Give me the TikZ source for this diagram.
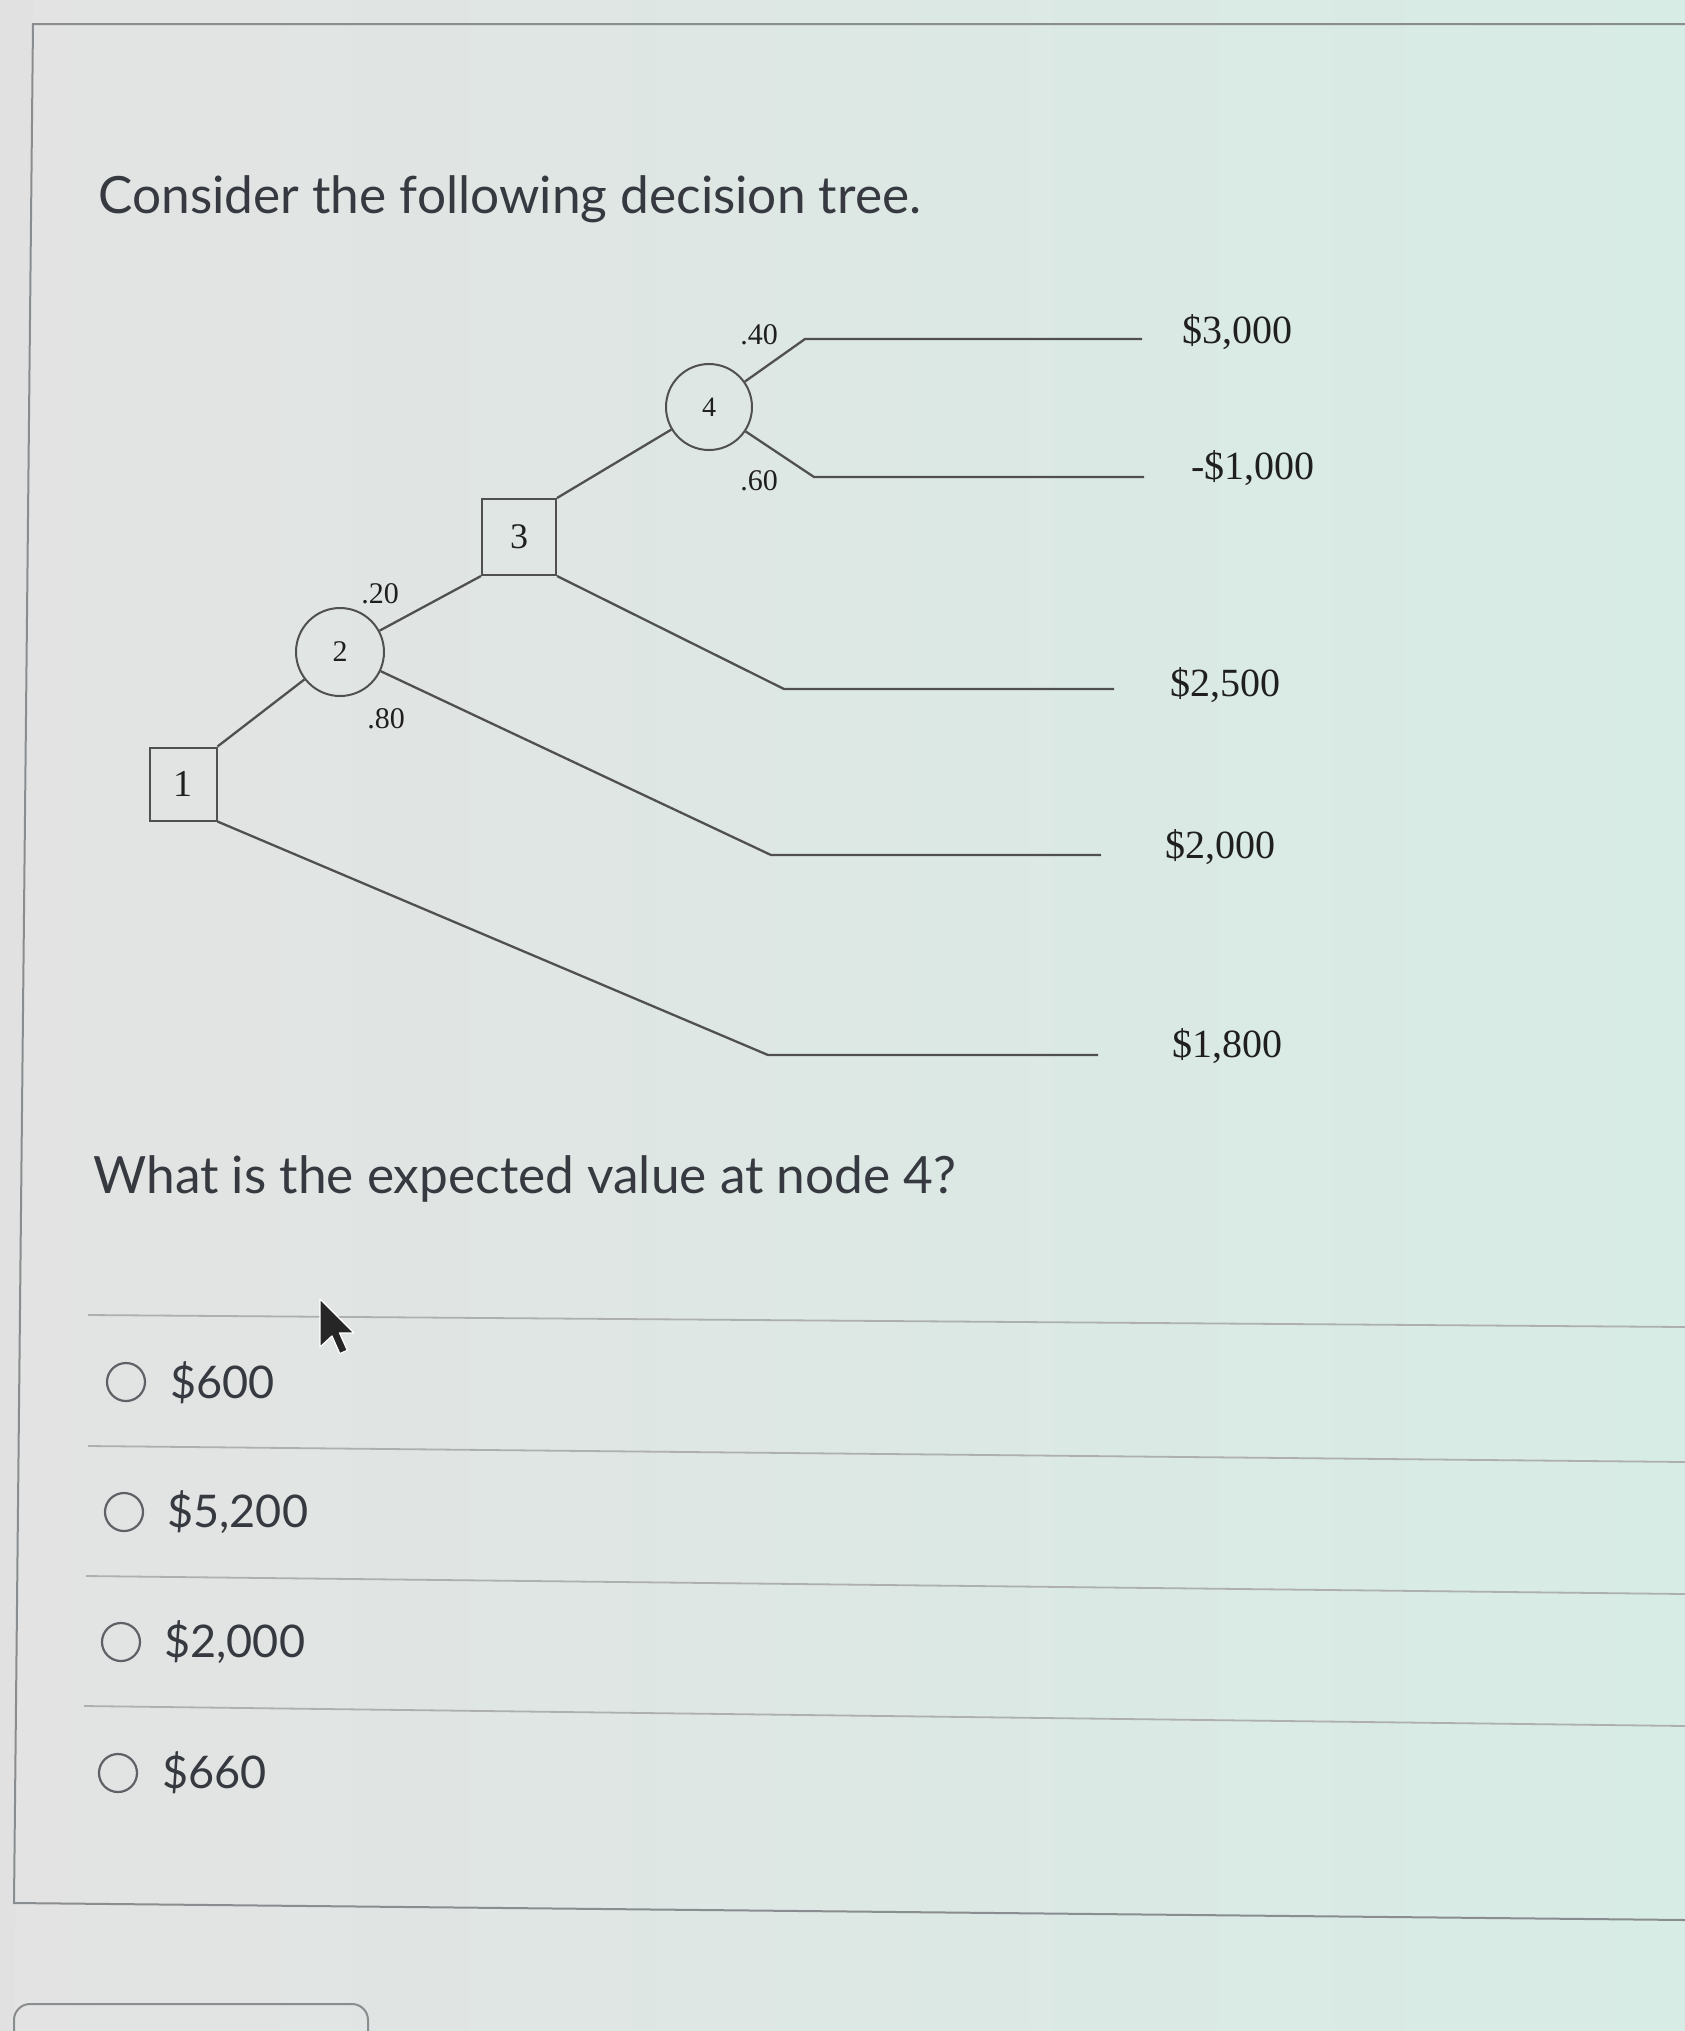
\documentclass[tikz,border=0pt]{standalone}
\usepackage{fontspec}
\setmainfont{Liberation Serif}
\newfontfamily\uifont{Lato}
\definecolor{bgl}{HTML}{E3E3E3}
\definecolor{bgr}{HTML}{D7ECE5}
\definecolor{frame}{HTML}{8A8D8F}
\definecolor{treeline}{HTML}{505050}
\definecolor{ink}{HTML}{1F1F1F}
\definecolor{uiink}{HTML}{363A40}
\tikzset{
  dbox/.style={draw=treeline, line width=1pt, fill=none, inner sep=0pt, text=ink},
  cnode/.style={draw=treeline, line width=1pt, circle, inner sep=0pt, text=ink},
  branch/.style={draw=treeline, line width=1.15pt},
  lbl/.style={text=ink, inner sep=0pt, font=\fontsize{15}{15}\selectfont},
  pay/.style={text=ink, inner sep=0pt, font=\fontsize{20}{20}\selectfont},
  uitext/.style={text=uiink, inner sep=0pt, anchor=base west, font=\uifont\fontsize{25.7}{25.7}\selectfont},
  opttext/.style={text=uiink, inner sep=0pt, anchor=base west, font=\uifont\fontsize{22.5}{22.5}\selectfont},
  radio/.style={draw=uiink!80, line width=1.1pt, circle, minimum size=19pt, inner sep=0pt},
  sep/.style={draw=frame!70, line width=0.9pt},
  panel/.style={draw=frame, line width=1pt}
}
\begin{document}
\begin{tikzpicture}[x=0.5pt,y=-0.5pt]
\useasboundingbox (0,0) rectangle (1685,2031);
\shade[left color=bgl, right color=bgr] (0,0) rectangle (1685,2031);
\fill[black!12, opacity=0.5] (0,0) -- (33,0) -- (14,2031) -- (0,2031) -- cycle;
% panel frame
\coordinate (ptl) at (33,24);
\coordinate (ptr) at (1685,24);
\coordinate (pbl) at (14,1903);
\coordinate (pbr) at (1685,1920);
\draw[panel] (ptr) -- (ptl) -- (pbl) -- (pbr);
\begin{scope}
\clip (0,0) rectangle (1685,2031);
\draw[panel, rounded corners=8pt] (14,2004) rectangle (368,2080);
\end{scope}
% title
\node[uitext] (title) at (98,213) {Consider the following decision tree.};
% tree nodes
\node[dbox, minimum width=33.5pt, minimum height=36.5pt, font=\fontsize{19}{19}\selectfont] (n1) at (183,784) {1};
\node[cnode, minimum size=44pt, font=\fontsize{15}{15}\selectfont] (n2) at (340,652) {2};
\node[dbox, minimum width=37pt, minimum height=38pt, font=\fontsize{18}{18}\selectfont] (n3) at (519,537) {3};
\node[cnode, minimum size=43pt, font=\fontsize{14}{14}\selectfont] (n4) at (709,407) {4};
% corner coordinates
\coordinate (k4a) at (805,339);
\coordinate (e4a) at (1142,339);
\coordinate (k4b) at (814,477);
\coordinate (e4b) at (1144,477);
\coordinate (k3) at (784,689);
\coordinate (e3) at (1114,689);
\coordinate (k2) at (771,855);
\coordinate (e2) at (1101,855);
\coordinate (k1) at (768,1055);
\coordinate (e1) at (1098,1055);
% branches
\draw[branch] (n1.north east) -- (n2);
\draw[branch] (n2) -- (n3.south west);
\draw[branch] (n3.north east) -- (n4);
\draw[branch] (n4) -- (k4a) -- (e4a);
\draw[branch] (n4) -- (k4b) -- (e4b);
\draw[branch] (n3.south east) -- (k3) -- (e3);
\draw[branch] (n2) -- (k2) -- (e2);
\draw[branch] (n1.south east) -- (k1) -- (e1);
% probability labels
\node[lbl] (p40) at (759,335) {.40};
\node[lbl] (p60) at (759,481) {.60};
\node[lbl] (p20) at (380,594) {.20};
\node[lbl] (p80) at (386,719) {.80};
% payoffs
\node[pay] (v1) at (1237,332) {\$3,000};
\node[pay] (v2) at (1253,468) {-\$1,000};
\node[pay] (v3) at (1225,685) {\$2,500};
\node[pay] (v4) at (1220,847) {\$2,000};
\node[pay] (v5) at (1227,1046) {\$1,800};
% question
\node[uitext] (q) at (93,1193) {What is the expected value at node 4?};
% separators
\coordinate (s1a) at (88,1315); \coordinate (s1b) at (1685,1327);
\coordinate (s2a) at (88,1446); \coordinate (s2b) at (1685,1462);
\coordinate (s3a) at (86,1576); \coordinate (s3b) at (1685,1594);
\coordinate (s4a) at (84,1706); \coordinate (s4b) at (1685,1726);
\draw[sep] (s1a) -- (s1b);
\draw[sep] (s2a) -- (s2b);
\draw[sep] (s3a) -- (s3b);
\draw[sep] (s4a) -- (s4b);
% options
\node[radio] (r1) at (126,1382) {};
\node[opttext] (o1) at (170,1398) {\$600};
\node[radio] (r2) at (124,1512) {};
\node[opttext] (o2) at (167,1527) {\$5,200};
\node[radio] (r3) at (121,1642) {};
\node[opttext] (o3) at (164,1657) {\$2,000};
\node[radio] (r4) at (118,1773) {};
\node[opttext] (o4) at (162,1788) {\$660};
% mouse cursor
\begin{scope}[shift={(320,1299)}, x=1.5pt, y=-1.5pt]
\filldraw[fill=black!85, draw=white, line width=0.6pt, line join=round]
  (0,0) -- (0,16) -- (4,12.3) -- (6.6,18.2) -- (9.1,17.1) -- (6.5,11.3) -- (11.3,11.3) -- cycle;
\end{scope}
\end{tikzpicture}
\end{document}
